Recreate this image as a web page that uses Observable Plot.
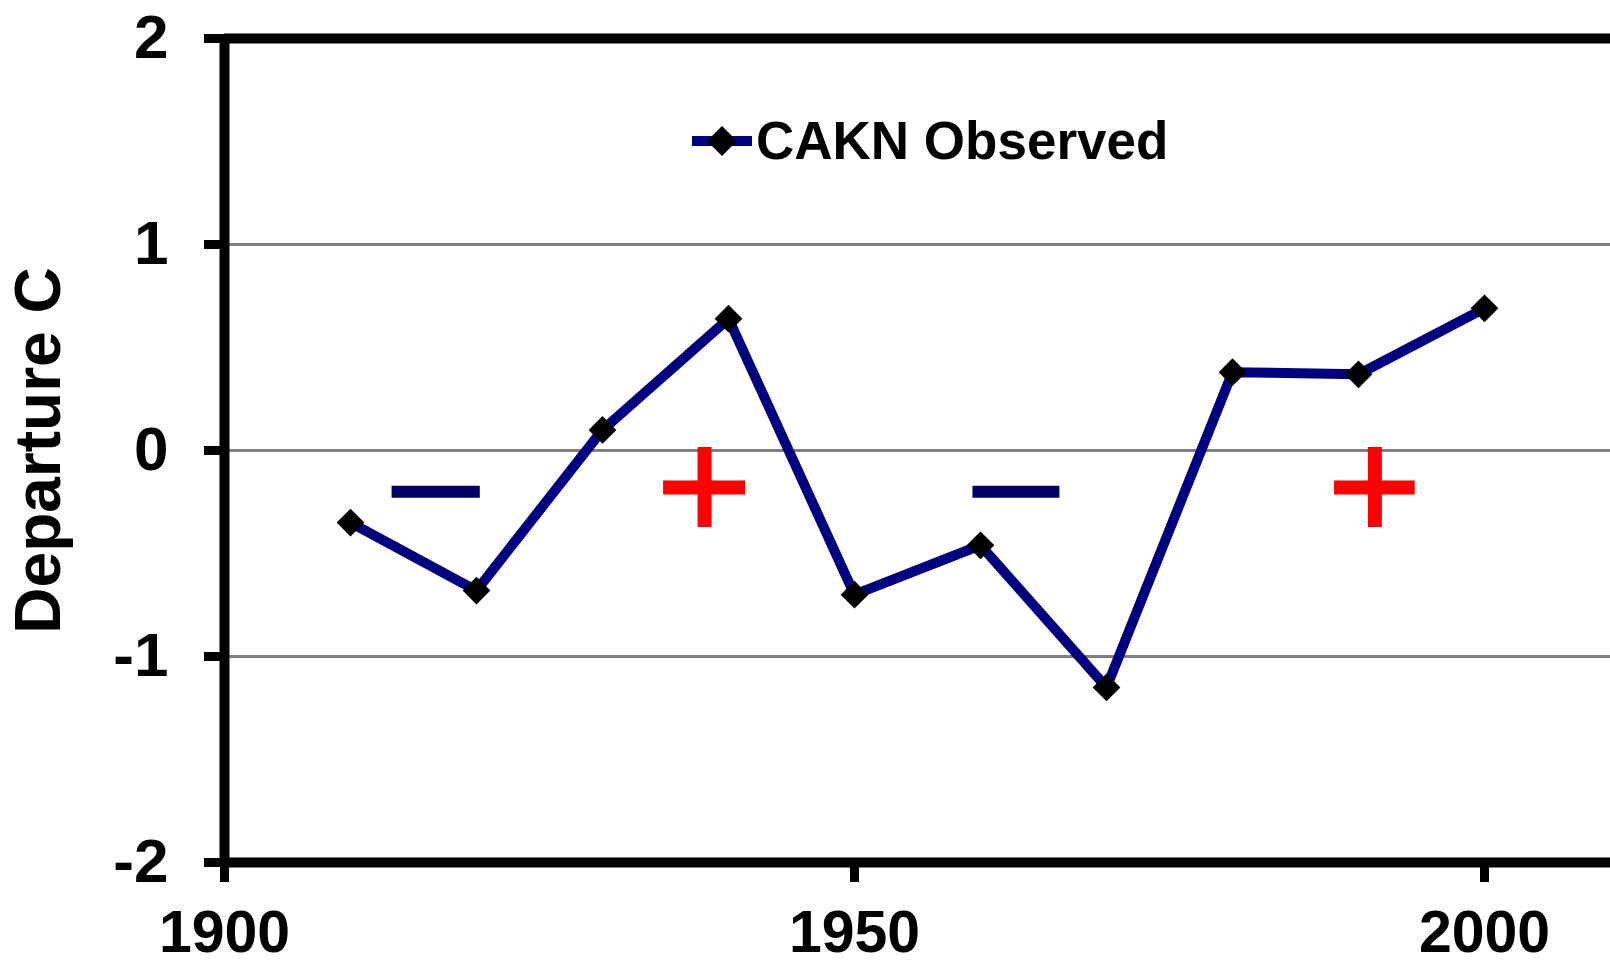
<!DOCTYPE html>
<html>
<head>
<meta charset="utf-8">
<script src="https://cdn.jsdelivr.net/npm/d3@7"></script>
<script src="https://cdn.jsdelivr.net/npm/@observablehq/plot@0.6"></script>
<style>
  html, body { margin: 0; padding: 0; background: white; }
  #wrap { position: relative; width: 1610px; height: 966px; overflow: hidden; }
  #legend { position: absolute; left: 690px; top: 114px; display: flex; align-items: center;
            font-family: "Liberation Sans", Arial, sans-serif; font-weight: bold; font-size: 53px; line-height: 1; color: black; }
  #legend svg { display: block; margin-right: 2px; }
</style>
</head>
<body>
<div id="wrap">
  <div id="chart"></div>
  <div id="legend">
    <svg width="64" height="34" viewBox="0 0 64 34">
      <line x1="2" y1="17" x2="62" y2="17" stroke="#000080" stroke-width="10"/>
      <path d="M32 2 L47 17 L32 32 L17 17 Z" fill="black"/>
    </svg>
    <span>CAKN Observed</span>
  </div>
</div>
<script>
// Observed decadal temperature departures (°C)
const years = [1910, 1920, 1930, 1940, 1950, 1960, 1970, 1980, 1990, 2000];
const departures = [-0.35, -0.68, 0.10, 0.64, -0.70, -0.46, -1.15, 0.38, 0.37, 0.69];

const yTicks = [-2, -1, 0, 1, 2];
const xTicks = [1900, 1950, 2000];
const gridValues = [-1, 0, 1];
const xDomain = [1900, 2010];
const yDomain = [-2, 2];

// Cool (−) and warm (+) phase markers
const coolX1 = [1913.3, 1959.4];
const coolX2 = [1920.3, 1966.3];
const coolY = [-0.2, -0.2];
const warmX = [1938.1, 1991.3];
const warmHalfWidth = [3.25, 3.2];
const warmY = [-0.18, -0.18];
const warmTop = [0.015, 0.015];
const warmBottom = [-0.374, -0.374];

const series = years.map((year, i) => ({year, value: departures[i]}));
const cool = coolX1.map((x1, i) => ({x1, x2: coolX2[i], y: coolY[i]}));
const warm = warmX.map((x, i) => ({x, x1: x - warmHalfWidth[i], x2: x + warmHalfWidth[i], y: warmY[i], y1: warmTop[i], y2: warmBottom[i]}));

const font = "Liberation Sans, Arial, sans-serif";

const chart = Plot.plot({
  width: 1610,
  height: 966,
  marginLeft: 224,
  marginRight: 0,
  marginTop: 38,
  marginBottom: 104,
  x: {domain: xDomain},
  y: {domain: yDomain},
  style: {fontFamily: font, background: "white", color: "black", overflow: "visible"},
  marks: [
    Plot.ruleY(gridValues, {stroke: "#808080", strokeWidth: 3}),
    Plot.ruleY([yDomain[1]], {stroke: "black", strokeWidth: 10}),
    Plot.ruleY([yDomain[0]], {stroke: "black", strokeWidth: 10}),
    Plot.ruleX([xDomain[0]], {stroke: "black", strokeWidth: 10}),
    Plot.axisY({ticks: yTicks, tickSize: 20, strokeWidth: 9, tickPadding: 36, fontSize: 62, fontWeight: "bold", label: null, tickFormat: d => String(d)}),
    Plot.axisX({ticks: xTicks, tickSize: 20, strokeWidth: 9, tickPadding: 28, fontSize: 59, fontWeight: "bold", label: null, tickFormat: d => String(d)}),
    Plot.text(["Departure C"], {frameAnchor: "left", textAnchor: "middle", lineAnchor: "middle", dx: -185, rotate: -90, fontSize: 64, fontWeight: "bold", fill: "black", text: d => d}),
    Plot.ruleY(cool, {x1: "x1", x2: "x2", y: "y", stroke: "#000066", strokeWidth: 12}),
    Plot.ruleY(warm, {x1: "x1", x2: "x2", y: "y", stroke: "#ff0000", strokeWidth: 14}),
    Plot.ruleX(warm, {x: "x", y1: "y1", y2: "y2", stroke: "#ff0000", strokeWidth: 14}),
    Plot.line(series, {x: "year", y: "value", stroke: "#000080", strokeWidth: 10, strokeLinejoin: "miter"}),
    Plot.dot(series, {x: "year", y: "value", symbol: "diamond2", r: 12.5, fill: "black", stroke: "none"})
  ]
});
document.getElementById("chart").appendChild(chart);
</script>
</body>
</html>
